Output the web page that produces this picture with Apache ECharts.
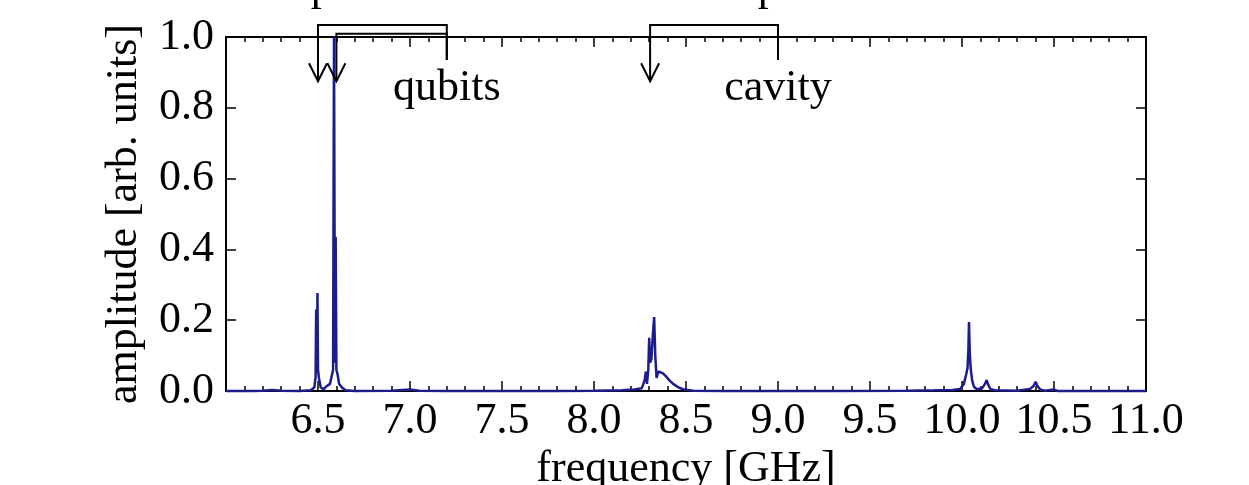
<!DOCTYPE html>
<html>
<head>
<meta charset="utf-8">
<script src="https://cdn.jsdelivr.net/npm/echarts@6/dist/echarts.min.js"></script>
<style>
html,body{margin:0;padding:0;background:#fff;}
#chart{width:1249px;height:485px;}
</style>
</head>
<body>
<div id="chart"></div>
<script>
// ---- data ----
const freq = [6.00,6.15,6.20,6.25,6.30,6.40,6.46,6.48,6.487,6.490,6.493,6.495,6.497,6.500,6.505,6.515,6.530,6.550,6.565,6.575,6.582,6.587,6.592,6.596,6.600,6.607,6.615,6.630,6.650,6.70,6.90,7.00,7.05,7.20,7.80,8.00,8.15,8.22,8.26,8.275,8.282,8.288,8.295,8.300,8.305,8.312,8.320,8.327,8.333,8.340,8.350,8.360,8.375,8.390,8.410,8.430,8.460,8.490,8.54,8.70,9.30,9.70,9.85,9.95,9.99,10.010,10.022,10.030,10.035,10.038,10.042,10.047,10.055,10.065,10.080,10.110,10.125,10.134,10.142,10.155,10.18,10.30,10.37,10.390,10.400,10.410,10.425,10.45,10.50,10.52,11.00];
const amp  = [0.000,0.000,0.001,0.003,0.001,0.000,0.002,0.010,0.040,0.230,0.050,0.120,0.277,0.060,0.037,0.010,0.005,0.015,0.020,0.015,0.060,1.000,0.080,0.435,0.060,0.045,0.020,0.010,0.002,0.000,0.001,0.004,0.001,0.000,0.000,0.001,0.002,0.004,0.008,0.030,0.055,0.020,0.060,0.150,0.080,0.090,0.160,0.209,0.100,0.037,0.055,0.059,0.050,0.042,0.030,0.020,0.010,0.004,0.001,0.000,0.000,0.001,0.002,0.003,0.006,0.020,0.045,0.065,0.120,0.195,0.110,0.065,0.030,0.012,0.005,0.008,0.020,0.031,0.018,0.005,0.002,0.001,0.006,0.015,0.026,0.014,0.004,0.001,0.004,0.000,0.000];
const xTicks = [6.0,6.5,7.0,7.5,8.0,8.5,9.0,9.5,10.0,10.5,11.0];
const yTicks = [0.0,0.2,0.4,0.6,0.8,1.0];
// annotation brackets (data coordinates)
const brackets = [
  {tipX: 6.5, barY: 1.034, endX: 7.2},
  {tipX: 6.6, barY: 1.009, endX: 7.2},
  {tipX: 8.305, barY: 1.034, endX: 9.0}
];
const annoLabels = [{x: 7.2, text: 'qubits'}, {x: 9.0, text: 'cavity'}];
const tipY = 0.875, endY = 0.935, labelY = 0.856;

const FONT = 'Liberation Serif';
const FS = 44;
const chart = echarts.init(document.getElementById('chart'), null, {renderer: 'canvas'});
const fmt = v => v.toFixed(1);
const tickStyle = {color: '#000', width: 1.5};
const axisLine = {show: true, onZero: false, lineStyle: {color: '#000', width: 2}};
const option = {
  animation: false,
  backgroundColor: '#fff',
  grid: {left: 226, top: 37, width: 920, height: 354, containLabel: false, outerBoundsMode: 'none'},
  xAxis: [
    {
      type: 'value', min: xTicks[0], max: xTicks[xTicks.length-1], interval: 0.5, position: 'bottom',
      axisLine: axisLine, splitLine: {show: false},
      axisTick: {show: true, inside: true, length: 10, lineStyle: tickStyle},
      minorTick: {show: true, splitNumber: 5, length: 5, lineStyle: tickStyle},
      axisLabel: {fontFamily: FONT, fontSize: FS, color: '#000', margin: 8, showMinLabel: false, formatter: fmt},
      name: 'frequency [GHz]', nameLocation: 'middle', nameGap: 50,
      nameTextStyle: {fontFamily: FONT, fontSize: FS, color: '#000'}
    },
    {
      type: 'value', min: xTicks[0], max: xTicks[xTicks.length-1], interval: 0.5, position: 'top',
      axisLine: axisLine, splitLine: {show: false},
      axisTick: {show: true, inside: true, length: 10, lineStyle: tickStyle},
      minorTick: {show: true, splitNumber: 5, length: 5, lineStyle: tickStyle},
      axisLabel: {show: false}
    }
  ],
  yAxis: [
    {
      type: 'value', min: yTicks[0], max: yTicks[yTicks.length-1], interval: 0.2, position: 'left',
      axisLine: axisLine, splitLine: {show: false},
      axisTick: {show: true, inside: true, length: 10, lineStyle: tickStyle},
      axisLabel: {fontFamily: FONT, fontSize: FS, color: '#000', margin: 12, formatter: fmt},
      name: 'amplitude [arb. units]', nameLocation: 'middle', nameGap: 80,
      nameTextStyle: {fontFamily: FONT, fontSize: FS, color: '#000'}
    },
    {
      type: 'value', min: yTicks[0], max: yTicks[yTicks.length-1], interval: 0.2, position: 'right',
      axisLine: axisLine, splitLine: {show: false},
      axisTick: {show: true, inside: true, length: 10, lineStyle: tickStyle},
      axisLabel: {show: false}
    }
  ],
  series: [{
    type: 'line',
    xAxisIndex: 0, yAxisIndex: 0,
    data: freq.map((f, i) => [f, amp[i]]),
    showSymbol: false, symbol: 'none', smooth: false, sampling: null,
    lineStyle: {color: '#1c1c8c', width: 2.5},
    clip: false, z: 3
  }]
};
chart.setOption(option);

// annotations drawn through the axes' own coordinate mapping
const px = (x, y) => chart.convertToPixel({xAxisIndex: 0, yAxisIndex: 0}, [x, y]);
const graphics = [];
const stroke = {stroke: '#000', lineWidth: 2, fill: null};
brackets.forEach(b => {
  const tip = px(b.tipX, tipY), corner1 = px(b.tipX, b.barY), corner2 = px(b.endX, b.barY), end = px(b.endX, endY);
  graphics.push({type: 'polyline', z: 10, shape: {points: [tip, corner1, corner2, end]}, style: stroke});
  graphics.push({type: 'polyline', z: 10, shape: {points: [[tip[0]-9, tip[1]-18], tip, [tip[0]+9, tip[1]-18]]}, style: stroke});
});
annoLabels.forEach(l => {
  const p = px(l.x, labelY);
  graphics.push({type: 'text', z: 10, x: p[0], y: p[1], style: {text: l.text, fontFamily: FONT, fontSize: FS, fill: '#000', align: 'center', verticalAlign: 'middle'}});
});
// partially visible glyphs of text lying above the picture
[6.46, 8.89].forEach(x => {
  const p = px(x, 1.0);
  graphics.push({type: 'text', z: 10, x: p[0], y: -12, style: {text: 'p', fontFamily: FONT, fontSize: FS, fill: '#000', align: 'left', verticalAlign: 'middle'}});
});
chart.setOption({graphic: graphics});
</script>
</body>
</html>
